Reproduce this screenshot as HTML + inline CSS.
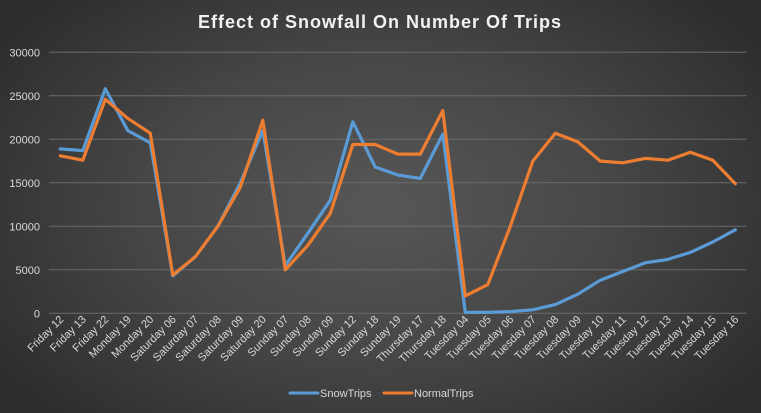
<!DOCTYPE html>
<html><head><meta charset="utf-8"><style>
html,body{margin:0;padding:0;}
body{width:761px;height:413px;overflow:hidden;background:radial-gradient(ellipse 60% 70% at 50% 50%,#575757 0%,#474747 50%,#2e2e2e 100%);font-family:"Liberation Sans",sans-serif;}
svg{display:block}
</style></head><body>
<svg id="chart" width="761" height="413" xmlns="http://www.w3.org/2000/svg">
<text x="380" y="28" text-anchor="middle" fill="#f2f2f2" font-size="18" font-weight="bold" letter-spacing="1">Effect of Snowfall On Number Of Trips</text>
<g id="grid"></g>
<g id="yaxis"></g>
<g id="xaxis"></g>
<g id="series"></g>
<g>
<g><line x1="290" y1="393" x2="318" y2="393" stroke="#5b9bd5" stroke-width="3" stroke-linecap="round"/><text x="320" y="397" fill="#d9d9d9" font-size="11">SnowTrips</text></g>
<g><line x1="384" y1="393" x2="412" y2="393" stroke="#ed7d31" stroke-width="3" stroke-linecap="round"/><text x="414" y="397" fill="#d9d9d9" font-size="11">NormalTrips</text></g>
</g>
</svg>
<script>
const categories=["Friday 12","Friday 13","Friday 22","Monday 19","Monday 20","Saturday 06","Saturday 07","Saturday 08","Saturday 09","Saturday 20","Sunday 07","Sunday 08","Sunday 09","Sunday 12","Sunday 18","Sunday 19","Thursday 17","Thursday 18","Tuesday 04","Tuesday 05","Tuesday 06","Tuesday 07","Tuesday 08","Tuesday 09","Tuesday 10","Tuesday 11","Tuesday 12","Tuesday 13","Tuesday 14","Tuesday 15","Tuesday 16"];
const snowTrips=[18900,18700,25800,21000,19600,4300,6500,10000,15000,21000,5500,9200,13000,22000,16800,15900,15500,20600,100,100,200,400,1000,2200,3800,4800,5800,6200,7000,8200,9600];
const normalTrips=[18100,17600,24600,22400,20700,4400,6500,10000,14500,22200,5000,7800,11500,19400,19400,18300,18300,23300,2000,3300,10000,17500,20700,19700,17500,17300,17800,17600,18500,17600,14900];
const yTicks=[0,5000,10000,15000,20000,25000,30000];
const NS="http://www.w3.org/2000/svg";
const L=49,R=746.5,T=52.3,B=313.3,YMAX=30000;
const step=(R-L)/categories.length;
function x(i){return L+step*(i+0.5);}
function y(v){return B-(v/YMAX)*(B-T);}
function mk(t,a,p){const e=document.createElementNS(NS,t);for(const k in a)e.setAttribute(k,a[k]);p.appendChild(e);return e;}
const grid=document.getElementById('grid'),ya=document.getElementById('yaxis'),xa=document.getElementById('xaxis'),se=document.getElementById('series');
yTicks.forEach(v=>{
 const g=mk('line',{x1:L,x2:R,y1:y(v),y2:y(v),stroke:'#6a6a6a','stroke-width':1},grid);
 
 
 const t=mk('text',{x:40,y:y(v)+4,'text-anchor':'end',fill:'#d9d9d9','font-size':11},ya);
 t.textContent=v;
 
 
});
categories.forEach((c,i)=>{
 const px=x(i)+4,py=320;
 const t=mk('text',{x:px,y:py,'text-anchor':'end',fill:'#d9d9d9','font-size':11,transform:`rotate(-45 ${px} ${py})`},xa);
 t.textContent=c;
 
 
});
function line(data,color,name){
 const d=data.map((v,i)=>(i?'L':'M')+x(i).toFixed(1)+' '+y(v).toFixed(1)).join(' ');
 const p=mk('path',{d:d,fill:'none',stroke:color,'stroke-width':3.2,'stroke-linejoin':'round','stroke-linecap':'round'},se);
 
 
}
line(snowTrips,'#5b9bd5','snowtrips-line');
line(normalTrips,'#ed7d31','normaltrips-line');
</script>
</body></html>
